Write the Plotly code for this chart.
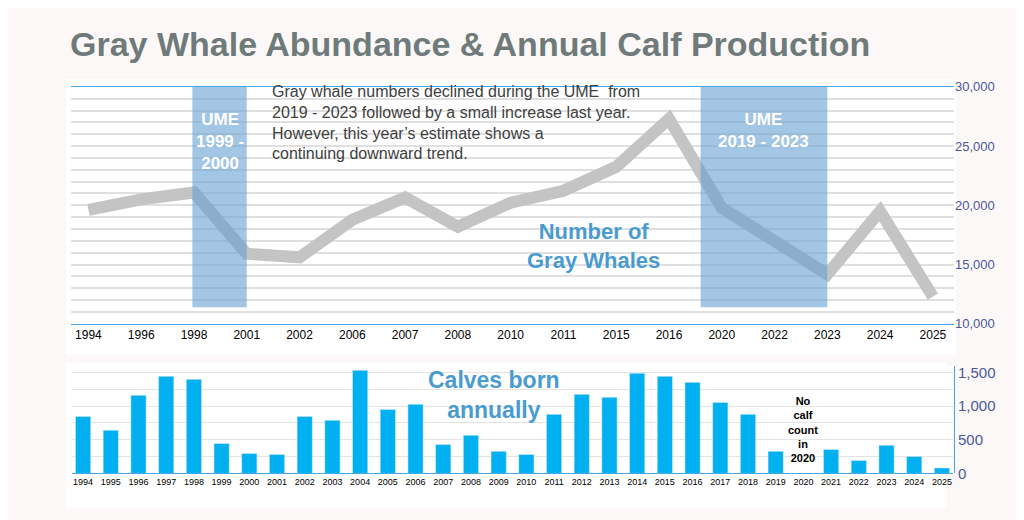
import plotly.graph_objects as go

# abundance estimates (top panel)
survey_years = ["1994", "1996", "1998", "2001", "2002", "2006", "2007", "2008", "2010",
                "2011", "2015", "2016", "2020", "2022", "2023", "2024", "2025"]
abundance = [19620, 20510, 21090, 15910, 15610, 18780, 20660, 18200, 20220,
             21230, 23250, 27300, 19790, 17060, 14180, 19500, 12300]

# calves born (bottom panel), 2020 has no count
calf_years = [str(y) for y in range(1994, 2026)]
calves = [846, 640, 1158, 1440, 1396, 445, 297, 282, 846, 787, 1530, 950, 1025, 430,
          565, 327, 282, 876, 1173, 1129, 1485, 1440, 1351, 1054, 876, 327, None,
          356, 193, 416, 252, 80]

ume_periods = [("<b>UME<br>1999 -<br>2000</b>", 1.97, 3.0),
               ("<b>UME<br>2019 - 2023</b>", 11.6, 14.0)]

TITLE_GRAY = "#6f7b7b"
BLUE_TEXT = "#4a9bd0"
AXIS_BLUE = "#4a5a9a"


def py(v):
    # pixel row (from top) -> paper fraction
    return 1 - v / 520


fig = go.Figure()

fig.add_trace(go.Scatter(
    x=survey_years, y=abundance, mode="lines",
    line=dict(color="#c4c4c4", width=12), xaxis="x", yaxis="y", showlegend=False,
))
fig.add_trace(go.Bar(
    x=calf_years, y=calves, marker_color="#00b0f0", width=0.55,
    xaxis="x2", yaxis="y2", showlegend=False,
))

# white panels behind the plots
fig.add_shape(type="rect", xref="paper", yref="paper", x0=58/1024, x1=948/1024,
              y0=py(350), y1=py(66), fillcolor="white", line_width=0, layer="below")
fig.add_shape(type="rect", xref="paper", yref="paper", x0=58/1024, x1=938/1024,
              y0=py(508), y1=py(358), fillcolor="white", line_width=0, layer="below")

for label, x0, x1 in ume_periods:
    fig.add_shape(type="rect", xref="x", yref="y", x0=x0, x1=x1, y0=11400, y1=30000,
                  fillcolor="rgba(100,160,210,0.6)", line_width=0, layer="above")
    fig.add_annotation(x=(x0 + x1) / 2, y=28200, xref="x", yref="y", text=label,
                       showarrow=False, yanchor="top",
                       font=dict(size=17, color="white", family="Liberation Sans"))

fig.add_annotation(
    x=262/1024, y=py(68), xref="paper", yref="paper", xanchor="left", yanchor="top",
    align="left", showarrow=False,
    text=("Gray whale numbers declined during the UME  from<br>"
          "2019 - 2023 followed by a small increase last year.<br>"
          "However, this year’s estimate shows a<br>continuing downward trend."),
    font=dict(size=16, color="#404040", family="Liberation Sans"),
)
fig.add_annotation(x=585/1024, y=py(238), xref="paper", yref="paper", showarrow=False,
                   text="<b>Number of<br>Gray Whales</b>",
                   font=dict(size=22, color=BLUE_TEXT, family="Liberation Sans"))
fig.add_annotation(x=486/1024, y=py(360), xref="paper", yref="paper", showarrow=False,
                   yanchor="top", text="<b>Calves born<br>annually</b>",
                   font=dict(size=23, color=BLUE_TEXT, family="Liberation Sans"))
fig.add_annotation(x=26, y=1200, xref="x2", yref="y2", showarrow=False, yanchor="top",
                   text="<b>No<br>calf<br>count<br>in<br>2020</b>",
                   font=dict(size=11, color="black", family="Liberation Sans"))

fig.update_layout(
    width=1024, height=520,
    margin=dict(l=0, r=0, t=0, b=0),
    paper_bgcolor="#fcf8f7", plot_bgcolor="white",
    title=dict(text="<b>Gray Whale Abundance & Annual Calf Production</b>",
               x=62/1024, xanchor="left", y=py(36), yanchor="middle",
               font=dict(size=34, color=TITLE_GRAY, family="Liberation Sans")),
    xaxis=dict(domain=[63/1024, 946/1024], anchor="y", range=[-0.33, 16.4],
               showline=True, linecolor="#44a8e8", linewidth=1, mirror=True,
               tickfont=dict(size=12, color="black", family="Liberation Sans"),
               showgrid=False, fixedrange=True),
    yaxis=dict(domain=[py(318), py(74)], side="right", range=[10000, 30000],
               tickvals=[10000, 15000, 20000, 25000, 30000], tickformat=",",
               showgrid=True, gridcolor="#e0e0e0", gridwidth=2,
               minor=dict(dtick=1000, showgrid=True, gridcolor="#e0e0e0", gridwidth=2),
               showline=False, zeroline=False,
               tickfont=dict(size=13, color=AXIS_BLUE, family="Liberation Sans"),
               fixedrange=True),
    xaxis2=dict(domain=[64/1024, 945/1024], anchor="y2", range=[-0.4, 31.4],
                showline=True, linecolor="#44a8e8", linewidth=1,
                tickfont=dict(size=9, color="black", family="Liberation Sans"),
                tickangle=0, showgrid=False, fixedrange=True),
    yaxis2=dict(domain=[py(472), py(361)], side="right", range=[0, 1600],
                tickvals=[0, 500, 1000, 1500], tickformat=",",
                showgrid=True, gridcolor="#e4e4e4", gridwidth=1,
                minor=dict(dtick=250, showgrid=True, gridcolor="#e4e4e4"),
                showline=True, linecolor="#44a8e8", zeroline=False,
                tickfont=dict(size=15, color=AXIS_BLUE, family="Liberation Sans"),
                fixedrange=True),
)

fig.write_html("out.html")
